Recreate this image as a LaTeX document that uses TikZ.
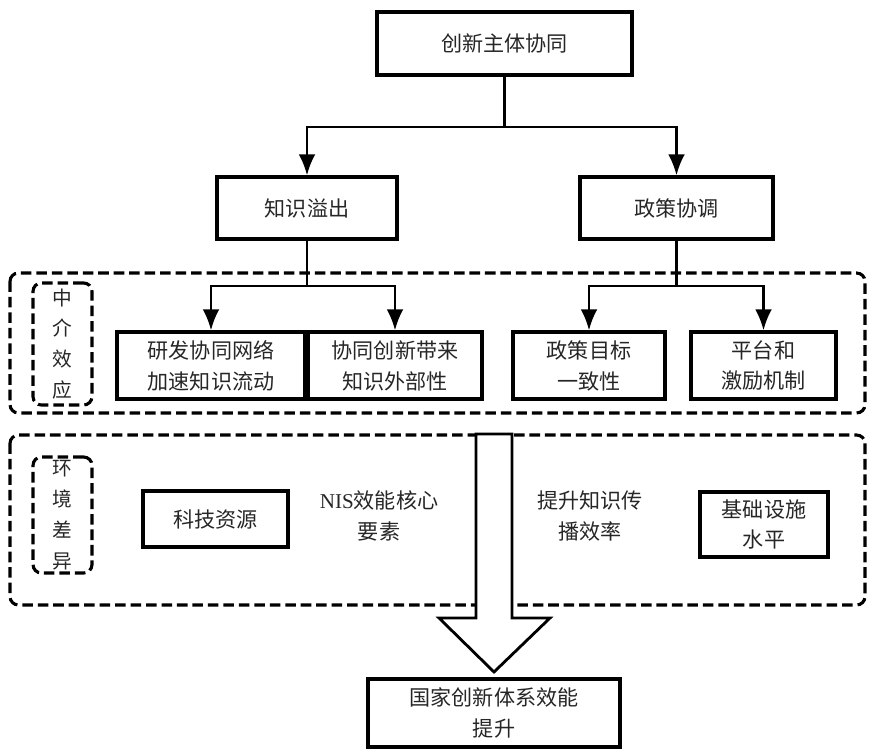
\documentclass[tikz,border=0pt]{standalone}
\usepackage{fontspec}
\setmainfont{Noto Sans CJK SC}
\newfontfamily\latinfont{Liberation Serif}
\usetikzlibrary{arrows.meta}
\tikzstyle{block} = [draw=black, rectangle, line width=2.2pt, align=center, inner sep=2pt]
\tikzstyle{label} = [align=center, inner sep=1pt]
\tikzstyle{link} = [line width=2pt]
\tikzstyle{group} = [draw=black, line width=2.2pt, dash pattern=on 7.5pt off 3.5pt, rounded corners=6pt]
\tikzstyle{tag} = [group, rectangle, align=center, minimum width=1.475cm, inner sep=0pt,
	font=\fontsize{14pt}{22pt}\selectfont]

\begin{document}
\begin{tikzpicture}[x=0.025cm, y=-0.025cm, >={Latex[length=15pt,width=12pt]},
	every node/.style={font=\fontsize{15pt}{22pt}\selectfont, text=black!85}]
	\useasboundingbox (0,0) rectangle (873,754);

	% GROUPS
	\draw[group] (10,273) rectangle (865,413);
	\draw[group] (10,435) rectangle (865,605);
	\node[tag, minimum height=3.05cm] (medtag) at (62.5,344) {中\\介\\效\\应};
	\node[tag, minimum height=2.9cm] (envtag) at (62.5,515) {环\\境\\差\\异};

	% LEVEL 1
	\node[block, minimum width=6.375cm, minimum height=1.575cm] (top) at (504.5,43.5) {创新主体协同};

	% LEVEL 2
	\node[block, minimum width=4.5cm, minimum height=1.55cm] (spill) at (307,208) {知识溢出};
	\node[block, minimum width=4.825cm, minimum height=1.55cm] (policy) at (676.5,208) {政策协调};

	% MEDIATION
	\node[block, minimum width=4.7cm, minimum height=1.675cm] (rnd) at (211,365.5) {研发协同网络\\加速知识流动};
	\node[block, minimum width=4.35cm, minimum height=1.675cm] (extern) at (395,365.5) {协同创新带来\\知识外部性};
	\node[block, minimum width=3.8cm, minimum height=1.675cm] (goal) at (589,365.5) {政策目标\\一致性};
	\node[block, minimum width=3.625cm, minimum height=1.675cm] (platform) at (763.5,365.5) {平台和\\激励机制};

	% ENVIRONMENT
	\node[block, minimum width=3.625cm, minimum height=1.4cm] (tech) at (215.5,519) {科技资源};
	\node[label] (nis) at (379,516) {{\latinfont NIS}效能核心\\要素};
	\node[label] (spread) at (590,516) {提升知识传\\播效率};
	\node[block, minimum width=3.2cm, minimum height=1.625cm] (infra) at (764,524.5) {基础设施\\水平};

	% RESULT
	\draw[link, fill=white] (476,434) -- (512,434) -- (512,618) -- (550,618)
		-- (494,672) -- (439,618) -- (476,618) -- cycle;
	\node[block, minimum width=6.3cm, minimum height=1.7cm] (result) at (494,713) {国家创新体系效能\\提升};

	\coordinate (splitA) at (504.5,127);
	\coordinate (splitB) at (307,286);
	\coordinate (splitC) at (676.5,286);

	\draw[link] (top) -- (splitA);
	\draw[->, link] (splitA) -| (spill);
	\draw[->, link] (splitA) -| (policy);

	\draw[link] (spill) -- (splitB);
	\draw[->, link] (splitB) -| (rnd);
	\draw[->, link] (splitB) -| (extern);

	\draw[link] (policy) -- (splitC);
	\draw[->, link] (splitC) -| (goal);
	\draw[->, link] (splitC) -| (platform);

\end{tikzpicture}
\end{document}
